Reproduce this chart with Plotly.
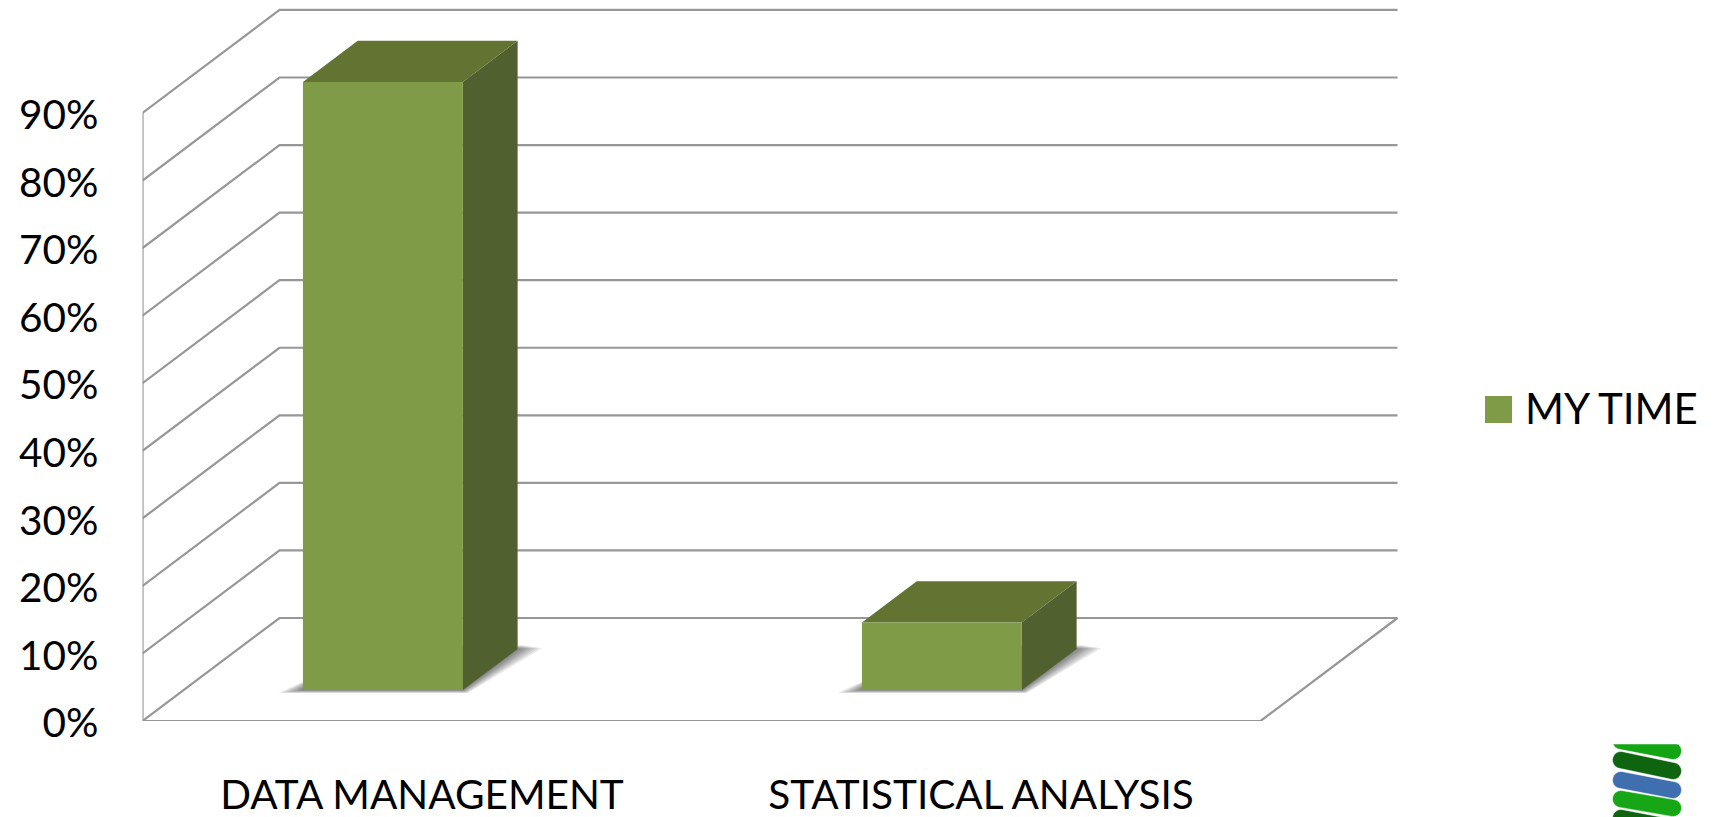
import numpy as np
import plotly.graph_objects as go

# Chart data
categories = ["DATA MANAGEMENT", "STATISTICAL ANALYSIS"]
my_time = [90, 10]
series_name = "MY TIME"
wall_ticks = [0, 10, 20, 30, 40, 50, 60, 70, 80, 90]
wall_labels = ["0%", "10%", "20%", "30%", "40%", "50%", "60%", "70%", "80%", "90%"]

# Page and plot layout, in pixels
W, H = 1720, 817
PLOT_LEFT, FLOOR_Y = 142.5, 721
CAT_PX = 559.0           # width of one category on the front edge
PCT_PX = 6.756           # height of one percentage point
DEPTH_X = 137 / CAT_PX   # floor depth in x-axis units
DEPTH_Y = 103 / PCT_PX   # floor depth in y-axis units

FONT = "Lato"
FONT_SIZE = 40.5
GRID = "#979797"
FRONT, TOP, SIDE = "#7F9B47", "#637332", "#51602F"

# Bar placement within a category, in x-axis units and floor depth fractions
BAR_X0, BAR_X1 = -0.2865, -0.0005
BAR_D0, BAR_D1 = 0.30, 0.70

x_lo = -0.5
x_hi = x_lo + (W - PLOT_LEFT) / CAT_PX
x_floor_right = x_lo + 2.0
y_hi = FLOOR_Y / PCT_PX


def project(x, v, d):
    """Oblique projection of (category position, value, depth fraction)."""
    return x + d * DEPTH_X, v + d * DEPTH_Y


def polygon(points, color, opacity=1.0):
    xs, ys = zip(*[project(*p) for p in points])
    return go.Scatter(
        x=list(xs) + [xs[0]], y=list(ys) + [ys[0]], mode="lines", fill="toself",
        fillcolor=color, opacity=opacity, line=dict(width=0), showlegend=False,
        hoverinfo="skip",
    )


def rule(points):
    xs, ys = zip(*[project(*p) for p in points])
    return go.Scatter(
        x=xs, y=ys, mode="lines", line=dict(color=GRID, width=2.2),
        showlegend=False, hoverinfo="skip",
    )


fig = go.Figure()

# Walls and floor
for v in wall_ticks:
    fig.add_trace(rule([(x_lo, v, 0), (x_lo, v, 1), (x_floor_right, v, 1)]))
fig.add_trace(rule([(x_lo, wall_ticks[-1], 0), (x_lo, 0, 0), (x_floor_right, 0, 0),
                    (x_floor_right, 0, 1)]))

# Soft contact shadows built from stacked translucent layers, then the bar faces
for i, value in enumerate(my_time):
    x0, x1 = i + BAR_X0, i + BAR_X1
    for grow in (0.044, 0.038, 0.032, 0.026, 0.021, 0.016, 0.011, 0.007, 0.003):
        down = grow * 22
        up = grow * 12
        fig.add_trace(polygon([
            (x0 - grow, -down * 0.45, BAR_D0),
            (x1 + grow * 0.2, -down * 0.45, BAR_D0),
            (x1 + grow, up * 0.2, BAR_D1),
            (x1 + grow * 0.2, up, BAR_D1),
            (x0 + grow, up, BAR_D1),
            (x0 - grow * 0.2, 0, BAR_D0 + 0.16),
        ], "#4A4A4A", 0.11))
    fig.add_trace(polygon([(x1, 0, BAR_D0), (x1, 0, BAR_D1), (x1, value, BAR_D1),
                           (x1, value, BAR_D0)], SIDE))
    fig.add_trace(polygon([(x0, value, BAR_D0), (x1, value, BAR_D0),
                           (x1, value, BAR_D1), (x0, value, BAR_D1)], TOP))
    fig.add_trace(polygon([(x0, 0, BAR_D0), (x1, 0, BAR_D0), (x1, value, BAR_D0),
                           (x0, value, BAR_D0)], FRONT))

# Legend swatch and text
shapes = [dict(type="rect", xref="paper", yref="paper", x0=1485 / W, x1=1512 / W,
               y0=1 - 423 / H, y1=1 - 396 / H, fillcolor=FRONT, line_width=0)]
annotations = [dict(text=series_name, xref="paper", yref="paper", x=1523 / W,
                    y=1 - 408 / H, xanchor="left", yanchor="middle", showarrow=False,
                    font=dict(family=FONT, size=42, color="black"))]


# Coil logo in the bottom right corner
def pill(x0, y0, x1, y1, r=8.5, clip_top=None):
    a = np.arctan2(y1 - y0, x1 - x0)
    t1 = np.linspace(a + np.pi / 2, a + 3 * np.pi / 2, 14)
    t2 = np.linspace(a - np.pi / 2, a + np.pi / 2, 14)
    px = np.r_[x0 + r * np.cos(t1), x1 + r * np.cos(t2)]
    py = np.r_[y0 + r * np.sin(t1), y1 + r * np.sin(t2)]
    if clip_top is not None:
        py = np.maximum(py, clip_top)
    cmds = [f"{'M' if k == 0 else 'L'}{a_ / W:.5f},{1 - b_ / H:.5f}" for k, (a_, b_) in enumerate(zip(px, py))]
    return " ".join(cmds) + " Z"


logo = [
    (1621, 741, 1673, 751, "#14A514", 744),
    (1621, 760, 1673, 771, "#0F640F", None),
    (1621, 780, 1673, 790, "#3F6FAE", None),
    (1621, 799, 1673, 808, "#16A616", None),
    (1621, 818, 1673, 828, "#0F640F", None),
]
for x0, y0, x1, y1, c, clip in logo:
    shapes.append(dict(type="path", xref="paper", yref="paper",
                       path=pill(x0, y0, x1, y1, clip_top=clip), fillcolor=c,
                       line=dict(color="rgba(255,255,255,0.5)", width=1)))

fig.update_layout(
    width=W, height=H, margin=dict(l=0, r=0, t=0, b=0, autoexpand=False),
    paper_bgcolor="white", plot_bgcolor="white", showlegend=False,
    shapes=shapes, annotations=annotations,
    font=dict(family=FONT, size=FONT_SIZE, color="black"),
    xaxis=dict(
        domain=[PLOT_LEFT / W, 1], range=[x_lo, x_hi], tickmode="array",
        tickvals=list(range(len(categories))), ticktext=categories,
        showgrid=False, zeroline=False, showline=False, ticks="outside",
        ticklen=38, tickcolor="rgba(0,0,0,0)", automargin=False,
        tickfont=dict(family=FONT, size=FONT_SIZE, color="black"),
    ),
    yaxis=dict(
        domain=[(H - FLOOR_Y) / H, 1], range=[0, y_hi], tickmode="array",
        tickvals=wall_ticks, ticktext=wall_labels, showgrid=False, zeroline=False,
        showline=False, ticks="outside", ticklen=35, ticklabelshift=2,
        tickcolor="rgba(0,0,0,0)", automargin=False,
        tickfont=dict(family=FONT, size=FONT_SIZE, color="black"),
    ),
)

fig.write_html("out.html")
